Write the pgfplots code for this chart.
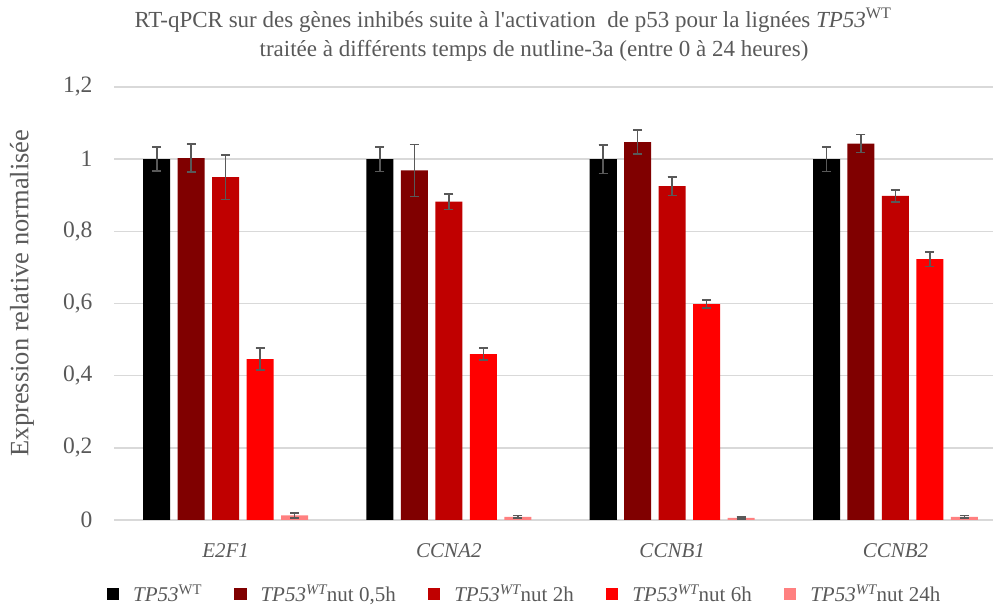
\documentclass[border=0pt]{standalone}
\usepackage{pgfplots}
\pgfplotsset{compat=1.18}
\usepackage{fontspec}
\setmainfont{Liberation Serif}
\definecolor{txt}{RGB}{89,89,89}
\definecolor{gridc}{RGB}{217,217,217}
\definecolor{cA}{RGB}{0,0,0}
\definecolor{cB}{RGB}{128,0,0}
\definecolor{cC}{RGB}{192,0,0}
\definecolor{cD}{RGB}{255,0,0}
\definecolor{cE}{RGB}{255,128,128}
\pgfplotsset{
  errstyle/.style={error bars/.cd, y dir=both, y explicit,
    draw error bar/.code 2 args={%
      \draw[txt, line width=1.6bp] ##1 -- ##2;
      \draw[txt, line width=1.6bp] ##2 ++(-4.5bp,0pt) -- ++(9bp,0pt);}},
}
\begin{document}
\begin{tikzpicture}
\useasboundingbox (0,0) rectangle (993bp,607bp);
\begin{axis}[
  at={(114bp,87bp)}, anchor=south west,
  scale only axis, width=879bp, height=433bp,
  ymin=0, ymax=1.2, ytick={0,0.2,0.4,0.6,0.8,1,1.2},
  xmin=-0.5, xmax=3.437,
  xtick={0,1,2,3},
  xticklabels={\textit{E2F1},\textit{CCNA2},\textit{CCNB1},\textit{CCNB2}},
  major tick length=0pt,
  axis lines=left,
  x axis line style={draw=gridc, line width=1.5bp, -},
  y axis line style={draw=none, -},
  ymajorgrids, grid style={draw=gridc, line width=1.5bp},
  ticklabel style={text=txt},
  yticklabel style={font=\fontsize{23.5bp}{26bp}\selectfont, /pgf/number format/.cd, use comma, fixed, precision=1, assume math mode=true, /tikz/.cd, xshift=-18bp},
  xticklabel style={font=\fontsize{21bp}{24bp}\selectfont, yshift=-20bp},
  legend columns=5,
  legend style={draw=none, fill=none, at={(0.467,-0.171)}, anchor=center,
    font=\fontsize{21bp}{24bp}\selectfont, text=txt,
    /tikz/every odd column/.append style={column sep=12bp},
    /tikz/every even column/.append style={column sep=30bp}},
  legend image code/.code={\fill[#1] (0bp,-6.25bp) rectangle (12.5bp,6.25bp);},
]
\addplot[ybar, bar width=0.121, bar shift=0, fill=cA, draw=none, errstyle]
  coordinates {(-0.3087,1.0) +- (0,0.033) (0.6913,1.0) +- (0,0.034) (1.6913,1.0) +- (0,0.040) (2.6913,1.0) +- (0,0.034)};
\addlegendentry{\textit{TP53}\textsuperscript{WT}}
\addplot[ybar, bar width=0.121, bar shift=0, fill=cB, draw=none, errstyle]
  coordinates {(-0.1544,1.003) +- (0,0.039) (0.8456,0.969) +- (0,0.072) (1.8456,1.047) +- (0,0.033) (2.8456,1.043) +- (0,0.025)};
\addlegendentry{\textit{TP53\textsuperscript{WT}}nut 0,5h}
\addplot[ybar, bar width=0.121, bar shift=0, fill=cC, draw=none, errstyle]
  coordinates {(0,0.950) +- (0,0.062) (1,0.882) +- (0,0.021) (2,0.925) +- (0,0.026) (3,0.898) +- (0,0.017)};
\addlegendentry{\textit{TP53\textsuperscript{WT}}nut 2h}
\addplot[ybar, bar width=0.121, bar shift=0, fill=cD, draw=none, errstyle]
  coordinates {(0.1544,0.446) +- (0,0.030) (1.1544,0.460) +- (0,0.016) (2.1544,0.598) +- (0,0.011) (3.1544,0.723) +- (0,0.020)};
\addlegendentry{\textit{TP53\textsuperscript{WT}}nut 6h}
\addplot[ybar, bar width=0.121, bar shift=0, fill=cE, draw=none, errstyle]
  coordinates {(0.3087,0.013) +- (0,0.007) (1.3087,0.009) +- (0,0.003) (2.3087,0.006) +- (0,0.003) (3.3087,0.009) +- (0,0.004)};
\addlegendentry{\textit{TP53\textsuperscript{WT}}nut 24h}
\end{axis}
\node[anchor=base, text=txt, font=\fontsize{23bp}{26bp}\selectfont] at (513bp,579bp)
  {RT-qPCR sur des gènes inhibés suite à l\textquotesingle activation \ de p53 pour la lignées \textit{TP53}\textsuperscript{WT}};
\node[anchor=base, text=txt, font=\fontsize{23bp}{26bp}\selectfont] at (534bp,550bp)
  {traitée à différents temps de nutline-3a (entre 0 à 24 heures)};
\node[rotate=90, anchor=center, text=txt, font=\fontsize{26.5bp}{30bp}\selectfont] at (22bp,314bp)
  {Expression relative normalisée};
\end{tikzpicture}
\end{document}
